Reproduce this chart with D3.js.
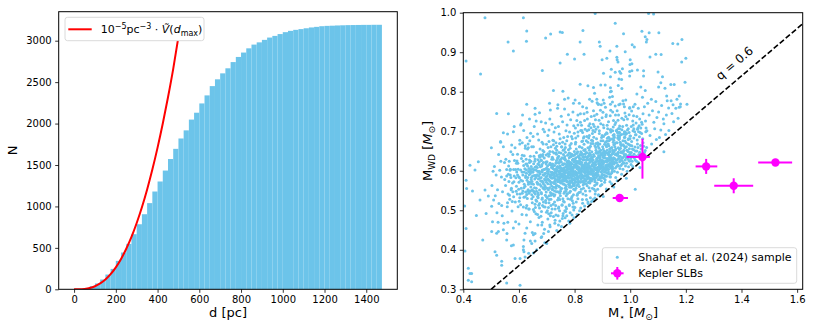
<!DOCTYPE html>
<html><head><meta charset="utf-8">
<script src="https://cdn.jsdelivr.net/npm/d3@7"></script>
<style>body{margin:0;background:#fff}svg{display:block}text{font-family:"DejaVu Sans",sans-serif;fill:#000}</style>
</head><body><svg id="c" width="814" height="333"></svg>
<script>
// ---------- left panel: cumulative histogram of distances ----------
const binStart = [0,25,50,75,100,125,150,175,200,225,250,275,300,325,350,375,400,425,450,475,500,525,550,575,600,625,650,675,700,725,750,775,800,825,850,875,900,925,950,975,1000,1025,1050,1075,1100,1125,1150,1175,1200,1225,1250,1275,1300,1325,1350,1375,1400,1425,1450];
const binCount = [1,4,15,38,70,118,178,246,343,444,548,665,785,906,1040,1180,1301,1433,1572,1695,1820,1918,2048,2131,2243,2340,2452,2534,2606,2667,2742,2804,2857,2908,2953,2980,3010,3038,3058,3080,3103,3119,3131,3140,3150,3160,3167,3175,3179,3181,3184,3186,3188,3189,3190,3191,3191,3192,3192];
const binWidth = 25;
const curveD = [0,25,50,75,100,125,150,175,200,225,250,275,300,325,350,375,400,425,450,475,497];
const curveN = [0,0.6,5,16,37,71,118,182,264,366,489,632,800,990,1205,1445,1710,2000,2317,2660,3000];
const histXTicks = [0,200,400,600,800,1000,1200,1400];
const histYTicks = [0,500,1000,1500,2000,2500,3000];

// ---------- right panel: M_WD vs M_star ----------
const scatXTicks = [0.4,0.6,0.8,1.0,1.2,1.4,1.6];
const scatYTicks = [0.3,0.4,0.5,0.6,0.7,0.8,0.9,1.0];
const qRatio = 0.6;
const keplerM      = [1.044, 0.962, 1.273, 1.372, 1.522];
const keplerMwd    = [0.635, 0.531, 0.611, 0.562, 0.621];
const keplerMerrLo = [0.057, 0.025, 0.038, 0.070, 0.062];
const keplerMerrHi = [0.027, 0.030, 0.040, 0.070, 0.060];
const keplerWerrLo = [0.055, 0.004, 0.019, 0.019, 0.004];
const keplerWerrHi = [0.046, 0.004, 0.019, 0.019, 0.004];
// Shahaf et al. (2024) sample, values in units of 0.001 Msun: M_star, M_WD pairs
const sampleMilli = [
622,561,635,598,628,540,631,612,624,583,639,571,626,629,633,552,637,590,621,605,629,576,638,621,623,534,634,566,627,594,640,548,625,617,632,583,636,606,630,530,
647,573,655,602,641,549,658,630,652,566,644,611,659,541,649,587,643,624,656,557,650,596,646,529,657,579,642,603,653,618,648,552,660,588,645,567,654,637,641,593,651,534,658,609,647,598,644,578,655,545,
666,608,674,551,661,583,679,627,670,539,663,646,676,592,668,566,672,615,664,523,678,574,667,599,662,556,675,634,671,587,669,544,677,610,665,571,673,622,680,561,666,590,674,517,661,602,678,640,670,579,663,548,676,565,668,628,672,596,667,535,
684,597,693,563,688,621,681,542,697,585,690,648,686,571,699,607,683,528,695,559,691,632,687,589,698,546,682,612,694,576,689,509,685,637,696,594,692,553,680,583,697,622,688,567,684,531,693,604,699,571,686,651,690,589,683,616,695,538,681,598,698,640,687,556,692,579,684,602,696,525,
703,612,711,574,718,629,706,552,714,597,701,586,709,642,716,538,704,567,712,619,719,581,707,603,715,661,702,531,710,557,717,608,705,592,713,545,720,634,708,576,701,623,714,566,706,507,718,591,711,649,704,579,716,614,709,527,703,599,712,584,719,553,707,637,715,571,702,604,710,616,717,542,705,659,713,588,708,519,720,596,
724,583,733,619,721,552,738,601,727,568,735,642,729,539,722,606,737,577,731,657,725,594,739,526,728,613,734,561,723,629,736,589,730,503,726,645,739,572,732,598,721,617,735,547,728,581,724,666,737,609,733,556,726,592,740,634,729,574,722,541,734,621,738,587,731,568,727,603,723,515,736,652,730,596,725,558,739,611,732,577,721,589,735,626,728,549,737,563,733,604,
745,591,752,623,758,567,741,609,749,548,756,585,743,637,754,599,747,572,759,652,742,531,751,607,757,578,744,619,753,556,746,596,760,641,748,582,755,514,741,574,750,629,758,604,743,561,752,588,746,669,757,615,749,537,754,573,742,598,759,585,747,626,751,553,744,607,756,592,740,547,753,661,748,612,758,529,745,578,755,633,750,569,742,621,757,600,747,543,754,585,743,574,759,616,746,559,751,645,749,601,
764,618,771,553,778,597,762,574,775,639,768,586,761,607,773,541,767,628,779,566,765,593,772,676,763,521,776,611,769,578,780,644,766,556,774,602,761,589,777,625,770,537,763,654,775,572,768,609,779,583,765,499,772,616,767,564,761,631,776,594,769,548,773,622,764,581,778,605,766,668,771,575,762,543,777,590,774,612,765,636,770,560,779,619,763,597,776,529,768,579,772,603,767,647,780,566,764,601,775,586,
783,596,791,571,797,622,785,548,794,608,788,583,799,649,782,563,790,617,796,539,787,601,793,577,781,633,798,592,786,614,792,524,784,657,795,567,789,598,800,612,783,575,791,641,797,553,786,588,794,627,781,512,790,604,798,578,785,619,793,562,788,636,796,597,782,545,792,681,787,572,799,615,784,604,795,589,789,531,781,621,797,566,786,643,793,601,790,579,783,664,798,626,788,558,794,593,785,610,791,535,
803,614,811,578,817,632,805,556,814,603,808,589,819,661,802,571,810,623,816,545,807,609,813,584,801,641,818,598,806,619,812,529,804,672,815,573,809,605,820,617,803,582,811,648,817,560,806,594,814,636,801,507,810,612,818,587,805,625,813,566,808,644,816,601,802,551,812,688,807,579,819,622,804,597,815,609,809,538,801,630,817,572,806,655,813,606,810,585,803,668,818,631,808,563,814,596,805,615,811,542,
823,603,831,627,837,568,825,645,834,587,828,612,839,549,822,596,830,634,836,579,827,658,833,606,821,571,838,619,826,590,832,683,824,553,835,628,829,599,840,575,823,639,831,564,837,611,826,584,834,667,821,623,830,541,838,595,825,607,833,652,828,572,836,598,822,630,832,556,827,615,839,636,824,581,835,603,829,675,821,546,837,588,826,621,833,569,830,609,823,592,838,643,828,527,834,614,825,600,831,583,
843,609,851,583,857,641,845,562,854,621,848,597,859,669,842,588,850,628,856,574,847,612,853,652,841,596,858,605,846,635,852,557,844,687,855,578,849,617,860,591,843,645,851,570,857,624,846,601,854,659,841,538,850,614,858,581,845,632,853,592,848,672,856,608,842,567,852,639,847,586,859,627,844,604,855,549,849,593,841,616,857,662,846,579,853,610,850,571,843,628,858,599,848,521,854,644,845,589,851,606,
868,641,861,597,875,623,879,566,864,612,872,588,866,669,877,604,862,631,870,553,874,617,869,593,878,646,863,579,871,608,867,527,876,659,865,601,873,572,880,629,862,614,869,685,875,591,864,556,871,637,878,583,866,620,873,606,861,574,877,652,868,599,874,541,863,626,870,611,879,595,865,676,872,563,876,615,867,587,862,648,878,607,871,580,864,634,869,618,875,549,866,592,873,663,880,602,
886,618,894,652,881,587,898,626,889,603,883,671,896,575,891,637,885,609,899,591,882,644,893,562,887,624,897,684,884,598,890,614,895,641,881,569,888,657,892,583,899,622,886,539,894,606,883,633,889,694,897,612,885,578,891,649,882,603,898,565,887,638,893,617,884,662,896,597,890,585,881,624,895,676,888,611,883,553,899,643,886,600,892,629,897,587,885,667,890,620,
906,633,914,608,901,661,918,594,909,641,903,617,916,675,911,586,905,650,919,628,902,603,913,664,908,571,917,645,904,622,910,692,915,611,901,639,907,597,919,668,912,625,905,581,917,612,903,655,909,632,914,554,902,619,918,682,906,606,911,648,904,589,916,631,908,667,913,601,901,626,919,615,907,644,910,577,915,696,903,636,912,609,917,652,
925,648,933,622,921,668,938,606,928,637,923,592,936,681,931,614,926,655,939,629,922,603,934,659,929,584,937,643,924,627,930,698,935,617,921,641,927,572,939,672,932,633,925,611,937,652,923,663,929,619,934,595,922,685,938,624,926,639,931,607,924,676,936,611,928,649,933,567,921,624,939,690,927,632,930,657,935,599,923,645,
946,652,954,628,941,677,958,612,949,643,943,599,956,689,951,621,945,661,959,636,942,617,953,671,948,583,957,647,944,631,950,701,955,615,941,648,947,607,959,679,952,639,945,621,957,658,943,684,949,627,954,596,942,692,958,631,946,641,951,611,944,668,956,643,948,655,953,575,941,630,959,697,
965,657,973,633,961,681,978,619,968,648,963,606,976,693,971,626,966,667,979,641,962,623,974,676,969,591,977,652,964,637,970,704,975,621,961,654,967,613,979,684,972,645,965,627,977,663,963,689,969,632,974,604,962,697,978,637,966,646,971,617,964,672,976,649,
986,661,994,638,981,685,998,624,988,652,983,612,996,697,991,631,985,671,999,646,982,627,993,679,989,599,997,656,984,641,990,703,995,626,981,658,987,619,999,688,992,649,985,633,997,666,983,692,989,637,994,610,982,698,998,641,
1006,663,1014,642,1001,688,1018,627,1008,655,1003,616,1016,699,1011,636,1005,674,1019,650,1002,631,1013,683,1009,611,1017,660,1004,646,1010,701,1015,632,1001,664,1007,624,1019,691,1012,653,1005,638,
1026,668,1034,647,1021,691,1038,632,1028,659,1023,624,1036,697,1031,641,1025,678,1039,655,1022,637,1033,686,1029,621,1037,664,1024,650,1030,699,
1046,671,1054,651,1041,694,1058,637,1048,662,1043,640,1056,699,1051,646,1045,681,1059,659,
774,603,792,627,808,571,826,612,843,584,861,636,879,607,897,583,915,622,933,641,787,592,805,633,823,578,841,621,859,597,877,645,895,615,913,602,931,628,769,611,784,569,802,598,819,641,837,606,855,569,873,618,891,632,909,588,927,609,778,625,796,586,814,619,832,574,850,637,868,591,886,609,904,647,922,597,940,633,761,589,779,581,797,608,815,583,833,634,851,612,869,582,887,638,905,604,923,616,765,631,783,614,801,575,819,603,837,651,855,598,873,576,891,611,909,639,927,585,772,572,790,640,808,607,826,589,844,628,862,604,880,631,898,599,916,614,934,606,781,606,799,567,817,625,835,596,853,643,871,609,889,578,907,623,925,638,786,621,804,590,822,648,840,603,858,624,876,593,894,644,912,613,930,592,767,597,785,637,803,612,821,593,839,576,857,631,875,603,893,626,911,596,929,620,776,584,794,603,812,636,830,608,848,591,866,617,884,596,902,634,920,604,938,647,789,575,807,624,825,601,843,646,861,579,879,624,897,608,915,586,933,615,777,617,795,629,813,594,831,641,849,605,867,627,885,590,903,611,921,631,939,622,
627,602,634,571,641,637,648,519,655,588,662,611,669,532,676,655,683,574,690,603,697,519,704,643,711,590,718,561,725,676,732,512,739,631,746,585,753,606,760,523,767,659,774,542,781,596,788,669,795,518,631,548,638,627,645,583,652,661,659,507,666,569,673,638,680,545,687,668,694,593,701,556,708,674,715,528,722,611,729,586,736,662,743,508,750,591,757,672,764,547,771,583,778,653,785,528,792,609,799,562,624,587,636,543,649,605,661,526,672,599,685,512,698,617,709,537,721,648,734,594,747,527,758,618,769,508,781,645,793,579,643,559,657,624,671,513,686,641,700,578,713,617,727,536,740,583,754,660,768,596,782,558,796,638,629,617,646,539,664,588,681,626,699,534,716,583,733,645,751,574,766,627,784,589,798,508,639,598,653,548,668,617,689,557,705,598,723,570,744,646,761,566,779,621,797,593,676,581,
804,683,817,661,829,697,842,676,853,689,866,702,879,681,891,668,904,687,917,694,929,679,942,688,955,683,968,692,981,675,994,681,812,698,826,674,838,654,851,683,864,694,877,669,889,701,902,676,915,661,928,704,941,666,954,697,967,664,979,699,992,668,808,644,822,702,834,686,848,658,861,677,873,699,886,648,899,689,911,672,924,683,937,701,949,671,961,684,974,666,987,694,999,681,845,701,958,707,1013,706,
652,502,667,489,681,497,694,508,707,491,719,503,733,488,746,499,758,486,771,504,784,494,797,501,809,489,822,506,836,511,849,517,861,522,873,531,886,538,658,515,674,506,688,521,702,499,715,512,728,521,742,505,755,513,768,497,781,514,794,508,806,521,818,499,829,518,843,527,857,532,
552,563,561,541,568,601,576,522,583,587,590,548,596,619,603,532,611,597,618,557,556,587,565,624,573,556,588,603,600,571,612,543,619,638,559,519,582,572,595,589,
503,563,512,611,521,494,534,672,541,547,556,603,567,528,578,641,589,582,597,509,608,556,615,624,505,471,518,589,527,641,538,512,549,578,559,693,569,604,581,534,592,597,603,677,611,489,619,566,509,526,523,552,531,601,546,467,553,629,564,573,575,498,586,658,594,541,606,602,613,574,501,658,515,537,526,446,537,584,548,621,558,509,572,552,583,712,591,619,601,523,614,589,507,599,528,517,544,696,557,441,571,648,588,471,599,585,612,639,535,624,562,591,577,569,593,625,604,541,616,508,
563,612,571,583,578,547,584,626,591,561,597,604,602,582,609,631,614,549,619,597,623,657,628,512,633,668,637,503,566,538,574,665,587,521,595,642,606,514,612,671,618,533,626,506,631,655,639,676,569,589,581,603,599,553,607,576,617,613,624,546,
627,488,641,471,655,497,668,463,679,485,692,452,704,478,716,494,729,467,741,486,753,459,766,481,779,473,791,488,635,503,661,491,684,470,711,463,736,449,759,492,783,467,798,481,648,444,672,482,699,495,724,484,747,473,772,486,689,441,713,486,
603,668,617,702,629,684,638,731,646,661,655,712,667,693,674,747,683,672,696,721,704,689,713,754,722,677,731,709,745,693,752,738,761,684,773,716,782,698,794,749,608,719,623,663,642,695,658,743,671,678,687,705,699,667,711,731,726,698,739,758,748,681,757,724,769,701,778,742,789,687,797,714,613,741,651,687,680,724,708,703,733,671,764,756,786,729,634,658,662,726,692,699,719,718,742,712,775,687,799,695,
803,708,812,741,821,723,829,762,838,705,846,731,855,719,863,776,871,712,880,743,888,728,896,767,905,709,913,737,922,724,930,753,939,711,947,741,956,728,964,769,973,712,981,746,990,731,998,758,808,727,817,771,826,702,834,744,843,759,851,714,860,737,868,752,877,705,885,768,894,719,902,748,911,761,919,706,928,739,936,774,945,717,953,752,962,706,970,733,979,762,987,715,996,742,825,715,875,729,940,727,
812,716,836,727,851,704,867,718,884,711,899,734,917,715,931,704,948,722,962,713,977,729,993,706,1011,716,1028,709,1041,723,821,744,845,748,871,739,893,753,914,742,937,749,958,741,984,737,1005,751,1024,737,859,709,903,716,952,703,1032,714,1057,708,
1004,712,1012,739,1021,721,1029,758,1038,708,1046,744,1055,726,1063,771,1071,689,1080,752,1088,706,1096,735,1105,684,1113,765,1121,719,1130,741,1139,702,1147,777,1156,724,1164,758,1172,733,1181,769,1009,726,1017,768,1026,705,1034,731,1043,718,1051,762,1060,701,1068,741,1077,668,1085,723,1094,679,1102,749,1110,703,1119,731,1127,692,1138,759,1150,745,1176,761,
1018,553,986,581,1121,648,903,535,941,559,1035,608,
478,987,616,987,874,998,1066,998,1084,997,946,973,628,954,561,926,627,928,580,903,410,878,462,845,684,854,714,946,696,936,748,951,756,950,830,955,820,926,889,926,892,915,976,947,1042,953,1068,949,1054,939,1060,932,1058,926,1103,949,1153,922,1171,921,1186,932,1007,919,1015,913,952,915,927,903,982,901,1092,895,1111,894,1071,888,1185,875,1200,885,774,895,834,895,748,873,800,883,899,881,916,885,952,887,953,881,956,875,1000,881,1006,871,999,869,
932,857,946,849,962,851,966,847,972,858,998,851,1006,853,1026,855,1048,853,1048,840,904,847,1100,850,1116,838,929,838,960,832,969,831,998,840,
820,819,848,815,868,811,894,817,910,817,929,810,929,800,957,816,970,808,932,801,1038,812,1054,803,1110,823,1102,812,1125,809,1146,818,1158,818,1197,824,724,803,758,801,
764,781,777,784,802,779,796,771,854,781,872,796,880,781,881,772,886,768,903,779,906,771,926,786,936,788,929,768,946,764,959,767,974,777,984,779,976,769,998,760,1011,762,1024,794,1044,786,1076,781,1092,775,1131,789,1133,777,1168,781,1176,789,1154,767,1180,762,1204,768,710,771,740,767,628,768,658,758,
406,397,418,353,418,323,430,340,410,454,470,425,502,446,520,442,514,395,520,386,538,371,544,451,556,425,586,378,604,378,622,442,618,425,616,400,652,438,658,422,652,392,664,400,556,316,604,310,424,340,430,319,538,361,454,623,424,614,442,602,410,576,412,555,460,526,478,551,490,536,502,510,540,486,560,470,525,470,580,455,600,465,641,422,628,455,680,431,693,418,635,391,573,410,482,492,447,487,405,511,433,549,580,412,616,408,618,395,622,382,646,416,658,441,682,433,700,416,712,458,706,446,730,475,742,463,756,479,682,463,520,745,562,744,606,716,580,699,534,674,544,661
];

const BLUE = "#6cc4ea";
const svg = d3.select("#c");
const defs = svg.append("defs");

function styleAxis(g){
  g.select(".domain").remove();
  g.selectAll(".tick line").attr("stroke","#000").attr("stroke-width",0.8);
  g.selectAll(".tick text").attr("font-size",10).attr("font-family","DejaVu Sans").attr("fill","#000");
}

// ===== LEFT =====
const L = {l:58.7, r:397.3, t:11.7, b:289.3};
const xh = d3.scaleLinear().domain([-73.75, 1548.75]).range([L.l, L.r]);
const yh = d3.scaleLinear().domain([0, 3350]).range([L.b, L.t]);
defs.append("clipPath").attr("id","clipL").append("rect")
  .attr("x",L.l).attr("y",L.t).attr("width",L.r-L.l).attr("height",L.b-L.t);
const gL = svg.append("g");
const hist = binStart.map((s,i)=>({s, n:binCount[i]}));
gL.append("g").selectAll("rect").data(hist).join("rect")
  .attr("x",d=>xh(d.s)).attr("width",d=>xh(d.s+binWidth)-xh(d.s))
  .attr("y",d=>yh(d.n)).attr("height",d=>yh(0)-yh(d.n))
  .attr("fill",BLUE);
const curve = curveD.map((d,i)=>[d, curveN[i]]);
gL.append("path").datum(curve).attr("clip-path","url(#clipL)")
  .attr("d", d3.line().x(d=>xh(d[0])).y(d=>yh(d[1])).curve(d3.curveMonotoneX))
  .attr("fill","none").attr("stroke","#ff0000").attr("stroke-width",2);
gL.append("rect").attr("x",L.l).attr("y",L.t).attr("width",L.r-L.l).attr("height",L.b-L.t)
  .attr("fill","none").attr("stroke","#000").attr("stroke-width",1);
styleAxis(gL.append("g").attr("transform",`translate(0,${L.b})`)
  .call(d3.axisBottom(xh).tickValues(histXTicks).tickSize(3.5).tickPadding(3.5).tickFormat(d3.format("d"))));
styleAxis(gL.append("g").attr("transform",`translate(${L.l},0)`)
  .call(d3.axisLeft(yh).tickValues(histYTicks).tickSize(3.5).tickPadding(3.5).tickFormat(d3.format("d"))));
gL.append("text").attr("x",(L.l+L.r)/2).attr("y",317).attr("text-anchor","middle").attr("font-size",13).text("d [pc]");
gL.append("text").attr("transform",`translate(16.5,${(L.t+L.b)/2}) rotate(-90)`).attr("text-anchor","middle").attr("font-size",13).text("N");
// legend
gL.append("rect").attr("x",65).attr("y",17.3).attr("width",139).attr("height",23.4).attr("rx",2.5)
  .attr("fill","#fff").attr("stroke","#d0d0d0").attr("stroke-width",0.8);
gL.append("line").attr("x1",68.3).attr("x2",91.7).attr("y1",29.3).attr("y2",29.3).attr("stroke","#ff0000").attr("stroke-width",2);
const lt = gL.append("text").attr("x",100.7).attr("y",33.4).attr("font-size",11);
lt.append("tspan").text("10");
lt.append("tspan").attr("dy",-4.5).attr("font-size",8).text("−5");
lt.append("tspan").attr("dy",4.5).text("pc");
lt.append("tspan").attr("dy",-4.5).attr("font-size",8).text("−3");
lt.append("tspan").attr("dy",4.5).text(" · ");
lt.append("tspan").attr("font-style","italic").text("Ṽ");
lt.append("tspan").text("(");
lt.append("tspan").attr("font-style","italic").text("d");
lt.append("tspan").attr("dy",2.5).attr("font-size",8).text("max");
lt.append("tspan").attr("dy",-2.5).text(")");

// ===== RIGHT =====
const R = {l:463.3, r:802.7, t:12.7, b:289.3};
const xs = d3.scaleLinear().domain([0.4, 1.62]).range([R.l, R.r]);
const ys = d3.scaleLinear().domain([0.3, 1.0]).range([R.b, R.t]);
defs.append("clipPath").attr("id","clipR").append("rect")
  .attr("x",R.l).attr("y",R.t).attr("width",R.r-R.l).attr("height",R.b-R.t);
const gR = svg.append("g");
const pts = [];
for (let i=0;i<sampleMilli.length;i+=2) pts.push([sampleMilli[i]/1000, sampleMilli[i+1]/1000]);
gR.append("g").attr("clip-path","url(#clipR)").selectAll("circle").data(pts).join("circle")
  .attr("cx",d=>xs(d[0])).attr("cy",d=>ys(d[1])).attr("r",1.5).attr("fill",BLUE);
// q line
const m0 = ys.domain()[0]/qRatio, m1 = xs.domain()[1];
gR.append("line").attr("clip-path","url(#clipR)")
  .attr("x1",xs(m0)).attr("y1",ys(m0*qRatio)).attr("x2",xs(m1)).attr("y2",ys(m1*qRatio))
  .attr("stroke","#000").attr("stroke-width",1.6).attr("stroke-dasharray","5.5,2.4");
const ang = Math.atan2(ys(m0*qRatio)-ys(m1*qRatio), xs(m1)-xs(m0))*180/Math.PI;
gR.append("text").attr("transform",`translate(${xs(1.375)},${ys(0.872)}) rotate(${-ang})`)
  .attr("text-anchor","middle").attr("dominant-baseline","central").attr("font-size",12).text("q = 0.6");
// Kepler SLBs
const kep = keplerM.map((m,i)=>({m, w:keplerMwd[i], ml:keplerMerrLo[i], mh:keplerMerrHi[i], wl:keplerWerrLo[i], wh:keplerWerrHi[i]}));
const gk = gR.append("g");
gk.selectAll("line.h").data(kep).join("line").attr("class","h")
  .attr("x1",d=>xs(d.m-d.ml)).attr("x2",d=>xs(d.m+d.mh)).attr("y1",d=>ys(d.w)).attr("y2",d=>ys(d.w))
  .attr("stroke","#ff00ff").attr("stroke-width",2);
gk.selectAll("line.v").data(kep).join("line").attr("class","v")
  .attr("x1",d=>xs(d.m)).attr("x2",d=>xs(d.m)).attr("y1",d=>ys(d.w-d.wl)).attr("y2",d=>ys(d.w+d.wh))
  .attr("stroke","#ff00ff").attr("stroke-width",2);
gk.selectAll("circle").data(kep).join("circle")
  .attr("cx",d=>xs(d.m)).attr("cy",d=>ys(d.w)).attr("r",4.2).attr("fill","#ff00ff");
gR.append("rect").attr("x",R.l).attr("y",R.t).attr("width",R.r-R.l).attr("height",R.b-R.t)
  .attr("fill","none").attr("stroke","#000").attr("stroke-width",1);
styleAxis(gR.append("g").attr("transform",`translate(0,${R.b})`)
  .call(d3.axisBottom(xs).tickValues(scatXTicks).tickSize(3.5).tickPadding(3.5).tickFormat(d3.format(".1f"))));
styleAxis(gR.append("g").attr("transform",`translate(${R.l},0)`)
  .call(d3.axisLeft(ys).tickValues(scatYTicks).tickSize(3.5).tickPadding(3.5).tickFormat(d3.format(".1f"))));
const xl = gR.append("text").attr("x",(R.l+R.r)/2).attr("y",317).attr("text-anchor","middle").attr("font-size",13);
xl.append("tspan").text("M");
xl.append("tspan").attr("dy",3).attr("font-size",9).text("⋆");
xl.append("tspan").attr("dy",-3).text(" [");
xl.append("tspan").attr("font-style","italic").text("M");
xl.append("tspan").attr("dy",3).attr("font-size",9).text("⊙");
xl.append("tspan").attr("dy",-3).text("]");
const yl = gR.append("text").attr("transform",`translate(432,${(R.t+R.b)/2}) rotate(-90)`).attr("text-anchor","middle").attr("font-size",13);
yl.append("tspan").text("M");
yl.append("tspan").attr("dy",3).attr("font-size",9).text("WD");
yl.append("tspan").attr("dy",-3).text(" [");
yl.append("tspan").attr("font-style","italic").text("M");
yl.append("tspan").attr("dy",3).attr("font-size",9).text("⊙");
yl.append("tspan").attr("dy",-3).text("]");
// legend
gR.append("rect").attr("x",602.3).attr("y",247.7).attr("width",194.4).attr("height",35.6).attr("rx",2.5)
  .attr("fill","#fff").attr("fill-opacity",0.8).attr("stroke","#d0d0d0").attr("stroke-width",0.8);
gR.append("circle").attr("cx",617.3).attr("cy",257.3).attr("r",1.5).attr("fill",BLUE);
gR.append("line").attr("x1",611).attr("x2",623.6).attr("y1",273.3).attr("y2",273.3).attr("stroke","#ff00ff").attr("stroke-width",2);
gR.append("line").attr("x1",617.3).attr("x2",617.3).attr("y1",267).attr("y2",279.6).attr("stroke","#ff00ff").attr("stroke-width",2);
gR.append("circle").attr("cx",617.3).attr("cy",273.3).attr("r",4.2).attr("fill","#ff00ff");
gR.append("text").attr("x",638.3).attr("y",261.3).attr("font-size",11).text("Shahaf et al. (2024) sample");
gR.append("text").attr("x",638.3).attr("y",277.3).attr("font-size",11).text("Kepler SLBs");
</script></body></html>
